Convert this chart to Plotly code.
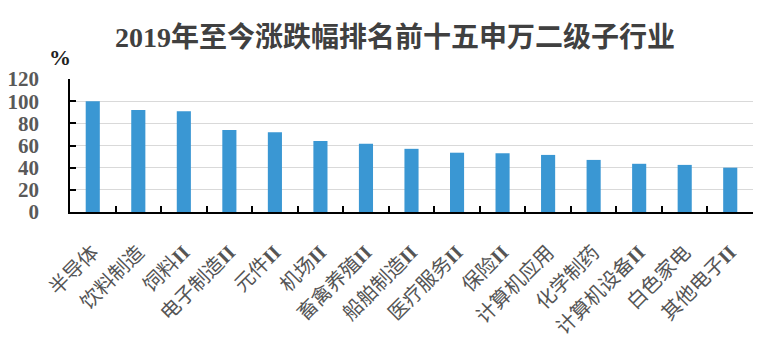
import plotly.graph_objects as go

categories = ["半导体", "饮料制造", "饲料II", "电子制造II", "元件II", "机场II", "畜禽养殖II",
              "船舶制造II", "医疗服务II", "保险II", "计算机应用", "化学制药", "计算机设备II",
              "白色家电", "其他电子II"]
values = [100, 92, 91, 74, 72, 64, 61.5, 57, 53.5, 53, 51.5, 47, 43.5, 42.5, 40]
y_ticks = [0, 20, 40, 60, 80, 100, 120]
title_text = "2019年至今涨跌幅排名前十五申万二级子行业"
unit_text = "%"

tick_text = [c.replace("II", "<b>II</b>") for c in categories]

fig = go.Figure(go.Bar(
    x=categories, y=values,
    marker=dict(color="#3A97D3", line=dict(width=0)),
    width=0.31,
))

fig.update_layout(
    width=782, height=352,
    margin=dict(l=70, r=29, t=79, b=140, autoexpand=False),
    paper_bgcolor="white", plot_bgcolor="white",
    showlegend=False,
    title=dict(text="<b>" + title_text + "</b>", x=0.505, xanchor="center",
               y=0.895, yanchor="middle",
               font=dict(family="Liberation Serif, Noto Sans CJK SC", size=28, color="#404040")),
    annotations=[dict(text="<b>" + unit_text + "</b>", xref="paper", yref="paper",
                      x=0.005, y=1.165, xanchor="right", yanchor="middle", showarrow=False,
                      font=dict(family="Liberation Serif", size=22, color="#222222"))],
)

fig.update_xaxes(
    type="category", automargin=False,
    tickmode="array", tickvals=categories, ticktext=tick_text,
    tickangle=-45,
    ticks="inside", tickson="boundaries", ticklen=6, tickwidth=1.5, tickcolor="black",
    showline=True, linecolor="black", linewidth=1.5,
    showgrid=False,
    ticklabelstandoff=19,
    tickfont=dict(family="Liberation Serif, Noto Sans CJK SC", size=20, color="#555555"),
)

fig.update_yaxes(
    range=[0, 120], tickmode="array", tickvals=y_ticks, automargin=False,
    ticks="inside", ticklen=6, tickwidth=1.5, tickcolor="black",
    showline=True, linecolor="black", linewidth=1.5,
    showgrid=True, gridcolor="#D9D9D9", gridwidth=1,
    zeroline=False,
    ticklabelstandoff=25,
    tickfont=dict(family="Liberation Serif", size=21, color="#595959", weight="bold"),
)

fig.write_html("out.html")
